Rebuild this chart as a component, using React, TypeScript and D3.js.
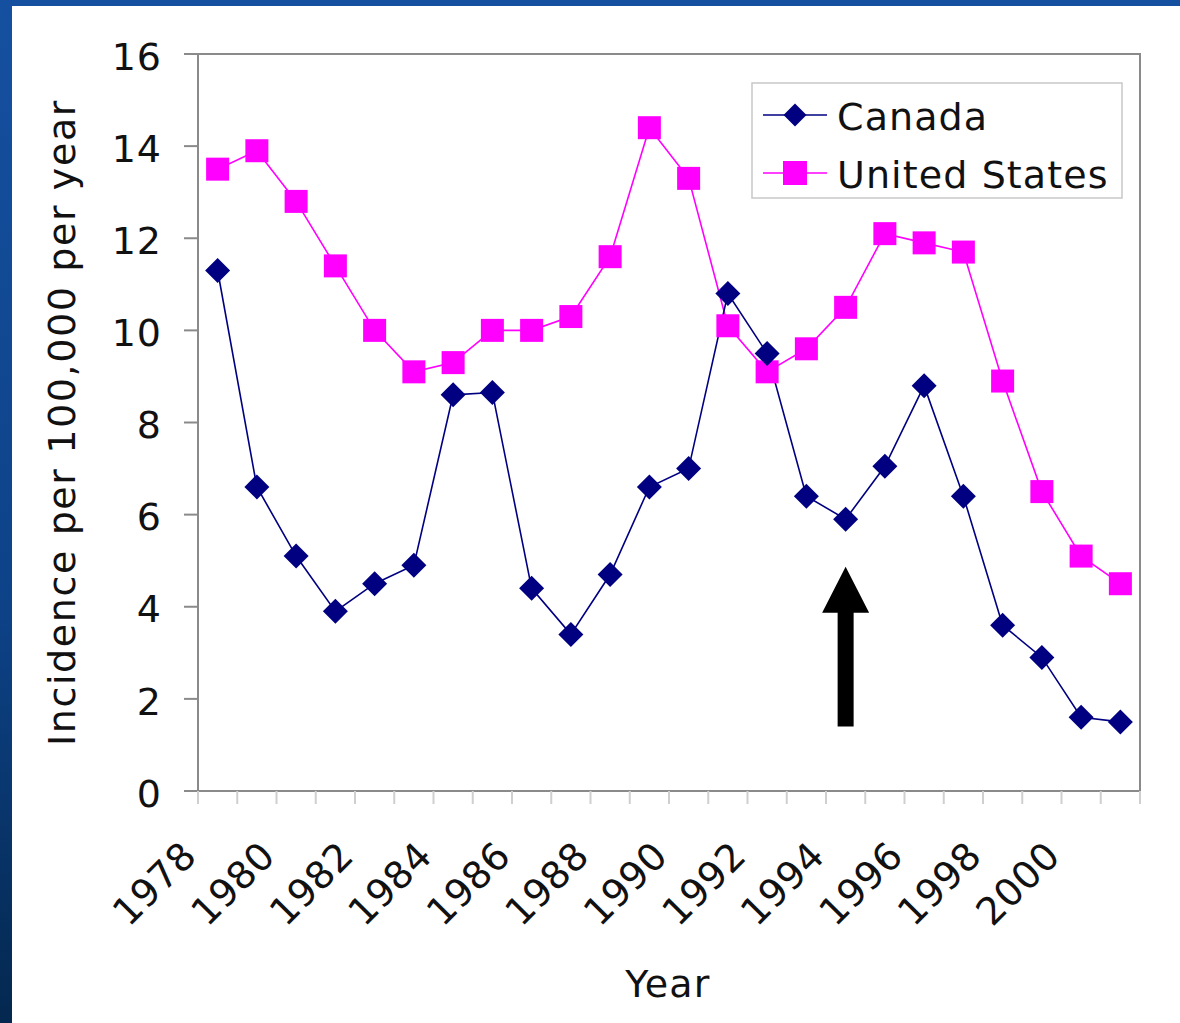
import React from "react";
import * as d3 from "d3";

// Yearly incidence per 100,000, 1978–2001
const years = d3.range(1978, 2002).map(String);
const canada = [11.3, 6.6, 5.1, 3.9, 4.5, 4.9, 8.6, 8.65, 4.4, 3.4, 4.7, 6.6, 7.0, 10.8, 9.5, 6.4, 5.9, 7.05, 8.8, 6.4, 3.6, 2.9, 1.6, 1.5];
const unitedStates = [13.5, 13.9, 12.8, 11.4, 10.0, 9.1, 9.3, 10.0, 10.0, 10.3, 11.6, 14.4, 13.3, 10.1, 9.1, 9.6, 10.5, 12.1, 11.9, 11.7, 8.9, 6.5, 5.1, 4.5];
const yTicks = [0, 2, 4, 6, 8, 10, 12, 14, 16];
const xLabelYears = years.filter((_, i) => i % 2 === 0);

// Annotation arrow: points up at the 1994 Canada value
const arrowYear = "1994";
const arrowFrom = 1.4;
const arrowTo = 4.87;

const W = 1180;
const H = 1023;
const plot = { left: 198, right: 1140, top: 54, bottom: 791 };
const FONT = "'DejaVu Sans', Verdana, sans-serif";
const NAVY = "#000080";
const MAGENTA = "#ff00ff";
const AXIS = "#8a8a8a";
const INK = "#111";

export default function App() {
  const x = d3.scaleBand<string>().domain(years).range([plot.left, plot.right]);
  const y = d3.scaleLinear().domain([0, 16]).range([plot.bottom, plot.top]);
  const cx = (yr: string) => (x(yr) as number) + x.bandwidth() / 2;

  const line = d3
    .line<number>()
    .x((_, i) => cx(years[i]))
    .y((d) => y(d));

  const boundaries = d3.range(0, years.length + 1).map((i) => plot.left + i * x.bandwidth());

  const diamond = (px: number, py: number, r: number) =>
    `M${px},${py - r}L${px + r},${py}L${px},${py + r}L${px - r},${py}Z`;

  // arrow geometry
  const ax = cx(arrowYear);
  const tipY = y(arrowTo);
  const tailY = y(arrowFrom);
  const headH = 46;
  const headHalf = 23.5;
  const shaftHalf = 8;
  const arrowPath = `M${ax},${tipY}L${ax + headHalf},${tipY + headH}L${ax + shaftHalf},${tipY + headH}L${ax + shaftHalf},${tailY}L${ax - shaftHalf},${tailY}L${ax - shaftHalf},${tipY + headH}L${ax - headHalf},${tipY + headH}Z`;

  const legend = { x: 752, y: 83, w: 370, h: 115 };
  const midY = (plot.top + plot.bottom) / 2;

  return (
    <svg
      width={W}
      height={H}
      viewBox={`0 0 ${W} ${H}`}
      style={{ position: "absolute", left: 0, top: 0, display: "block" }}
      fontFamily={FONT}
    >
      <defs>
        <linearGradient id="slideBg" x1="0" y1="0" x2="0" y2="1">
          <stop offset="0" stopColor="#1550a0" />
          <stop offset="0.6" stopColor="#0d4287" />
          <stop offset="1" stopColor="#04284f" />
        </linearGradient>
      </defs>
      <rect x={0} y={0} width={W} height={H} fill="url(#slideBg)" />
      <rect x={12} y={6} width={W - 12} height={H - 6} fill="#ffffff" />

      {/* plot frame */}
      <rect
        x={plot.left}
        y={plot.top}
        width={plot.right - plot.left}
        height={plot.bottom - plot.top}
        fill="none"
        stroke={AXIS}
        strokeWidth={2}
      />

      {/* y axis ticks and labels */}
      {yTicks.map((t) => (
        <g key={t}>
          <line x1={184} x2={plot.left} y1={y(t)} y2={y(t)} stroke={AXIS} strokeWidth={2} />
          <text x={162} y={y(t) + 2} dy="0.36em" textAnchor="end" fontSize={38} letterSpacing={1} fill={INK}>
            {t}
          </text>
        </g>
      ))}

      {/* x axis ticks */}
      {boundaries.map((bx, i) => (
        <line key={i} x1={bx} x2={bx} y1={plot.bottom} y2={plot.bottom + 13} stroke="#cfcfcf" strokeWidth={2} />
      ))}
      {xLabelYears.map((yr) => {
        const px = cx(yr) - 19;
        const py = 858;
        return (
          <text
            key={yr}
            x={px}
            y={py}
            textAnchor="end"
            fontSize={38}
            letterSpacing={0.5}
            fill={INK}
            transform={`rotate(-45,${px},${py})`}
          >
            {yr}
          </text>
        );
      })}

      {/* axis titles */}
      <text x={668} y={997} textAnchor="middle" fontSize={38} letterSpacing={1.2} fill={INK}>
        Year
      </text>
      <text
        x={75}
        y={midY}
        textAnchor="middle"
        fontSize={38}
        letterSpacing={1.6}
        fill={INK}
        transform={`rotate(-90,75,${midY})`}
      >
        Incidence per 100,000 per year
      </text>

      {/* series */}
      <path d={line(unitedStates) || ""} fill="none" stroke={MAGENTA} strokeWidth={1.6} />
      <path d={line(canada) || ""} fill="none" stroke={NAVY} strokeWidth={1.6} />
      {unitedStates.map((v, i) => (
        <rect key={`us${i}`} x={cx(years[i]) - 11.5} y={y(v) - 11.5} width={23} height={23} fill={MAGENTA} />
      ))}
      {canada.map((v, i) => (
        <path key={`ca${i}`} d={diamond(cx(years[i]), y(v), 12.5)} fill={NAVY} />
      ))}

      {/* legend */}
      <rect x={legend.x} y={legend.y} width={legend.w} height={legend.h} fill="#fff" stroke="#c8c8c8" strokeWidth={1.5} />
      <line x1={763} x2={827} y1={115} y2={115} stroke={NAVY} strokeWidth={1.6} />
      <path d={diamond(795, 115, 11.5)} fill={NAVY} />
      <text x={837} y={116} dy="0.36em" fontSize={38} letterSpacing={1.1} fill={INK}>
        Canada
      </text>
      <line x1={763} x2={827} y1={173} y2={173} stroke={MAGENTA} strokeWidth={1.6} />
      <rect x={783} y={161} width={24} height={24} fill={MAGENTA} />
      <text x={837} y={174} dy="0.36em" fontSize={38} letterSpacing={1.1} fill={INK}>
        United States
      </text>

      {/* arrow */}
      <path d={arrowPath} fill="#000" />
    </svg>
  );
}
